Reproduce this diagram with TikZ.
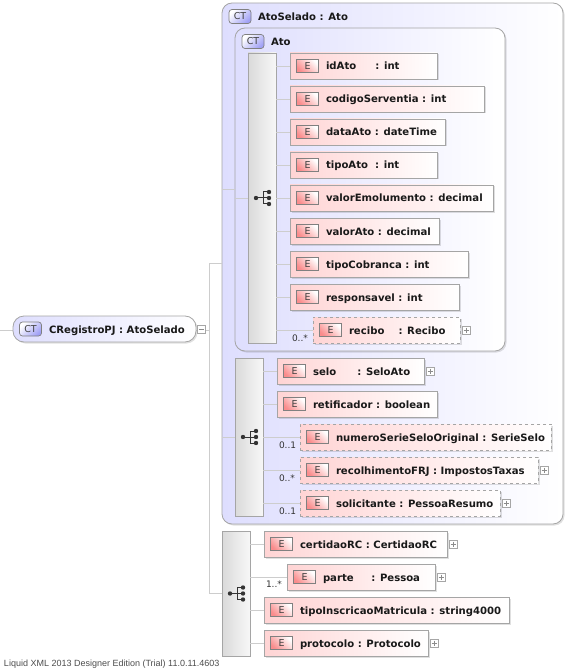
\documentclass[tikz,border=0pt]{standalone}
\usepackage{fontspec}
\setmainfont{DejaVu Sans}
\newfontfamily\footfont{Liberation Sans}
\usetikzlibrary{positioning,shadows}
\definecolor{XsdLav}{RGB}{222,222,254}
\definecolor{XsdBadge}{RGB}{160,160,245}
\definecolor{XsdPink}{RGB}{255,212,212}
\definecolor{XsdRed}{RGB}{250,140,140}
\definecolor{XsdEdge}{RGB}{165,165,165}
\definecolor{XsdLine}{RGB}{205,205,205}
\definecolor{XsdBar}{RGB}{218,218,218}
\definecolor{XsdInk}{RGB}{25,25,25}
\tikzset{
  every node/.style={outer sep=0pt,inner sep=0pt},
  softshadow/.style={drop shadow={shadow xshift=1.5pt,shadow yshift=-1.5pt,opacity=0.12,fill=black}},
  conn/.style={draw=XsdLine,line width=0.8pt},
  panel/.style={rectangle,draw=XsdEdge,line width=0.8pt,rounded corners=10pt,anchor=north west,
    left color=XsdLav,right color=white,softshadow},
  rootbox/.style={panel,rounded corners=11pt,minimum width=183pt,minimum height=26pt},
  seqbar/.style={rectangle,draw=XsdEdge,line width=0.8pt,anchor=north west,minimum width=28pt,
    left color=XsdBar,right color=white!97!black},
  elem/.style={rectangle,draw=XsdEdge,line width=0.8pt,anchor=north west,minimum height=26pt,
    left color=XsdPink,right color=white,softshadow},
  elemopt/.style={elem,dashed},
  ebadge/.style={rectangle,draw=black!50,line width=0.7pt,minimum width=22pt,minimum height=13pt,
    left color=XsdRed,right color=white,shading angle=135,text=black!75,font=\fontsize{9.5}{10}\selectfont},
  ctbadge/.style={rectangle,rounded corners=3pt,draw=black!50,line width=0.7pt,minimum width=22pt,
    minimum height=14pt,left color=white,right color=XsdBadge,shading angle=45,text=black!75,font=\fontsize{9.5}{10}\selectfont},
  elemtext/.style={anchor=base west,text=XsdInk,font=\fontsize{10.1}{11}\selectfont\bfseries},
  occurs/.style={anchor=base west,text=black!80,font=\fontsize{9}{10}\selectfont},
  expander/.style={rectangle,draw=black!35,line width=0.6pt,fill=white,minimum size=8pt,
    path picture={\draw[black!45,line width=0.5pt] ([xshift=1.5pt]path picture bounding box.west)
      -- ([xshift=-1.5pt]path picture bounding box.east);}},
  seqicon/.pic={
    \draw[black!80,line width=1pt] (-7,0) -- (0,0) (0,-6) -- (0,6) (0,-6) -- (6,-6) (0,0) -- (6,0) (0,6) -- (6,6);
    \foreach \d/\e in {-7/0,6/-6,6/0,6/6}
      \fill[black!80] (\d,\e) circle (2.2pt);
  },
}
\begin{document}
\begin{tikzpicture}[x=1pt,y=-1pt]
  \useasboundingbox (0,0) rectangle (577,668);

  % Nested content panels and the three sequence bars.
  \node[panel,minimum width=341pt,minimum height=521pt] (AtoSeladoBox) at (222,3) {};
  \node[panel,minimum width=270pt,minimum height=323pt] (AtoBox) at (235,28) {};
  \node[seqbar,minimum height=290pt] (seqAto) at (248,53) {};
  \node[seqbar,minimum height=158pt] (seqSelado) at (235,358) {};
  \node[seqbar,minimum height=125pt] (seqRoot) at (222,531) {};

  \pic at ([xshift=1pt]seqAto.center) {seqicon};
  \pic at ([xshift=1pt]seqSelado.center) {seqicon};
  \pic at ([xshift=1pt]seqRoot.center) {seqicon};

  % Root element.
  \coordinate (rootIn) at (0,330);
  \coordinate (bus) at (209,330);
  \draw[conn] (rootIn) -- (bus);
  \draw[conn] (AtoSeladoBox.west) -| (bus);
  \draw[conn] (seqRoot.west) -| (bus);
  \node[rootbox] (root) at (13,316) {};
  \node[ctbadge] (rootCT) at ([xshift=17.5pt]root.west) {CT};
  \node[elemtext] (rootText) at ([xshift=36pt,yshift=-4pt]root.west) {CRegistroPJ : AtoSelado};
  \node[expander,right=1.5pt of root] (rootMinus) {};

  \node[ctbadge] (AtoSeladoCT) at (240,16.5) {CT};
  \node[elemtext] (AtoSeladoText) at (258,20.5) {AtoSelado : Ato};
  \node[ctbadge] (AtoCT) at (253,41.5) {CT};
  \node[elemtext] (AtoText) at (271,45.5) {Ato};

  \draw[conn] (AtoBox.west) -- (AtoBox.west -| AtoSeladoBox.west);
  \draw[conn] (seqAto.west) -- (seqAto.west -| AtoBox.west);
  \draw[conn] (seqSelado.west) -- (seqSelado.west -| AtoSeladoBox.west);

  % Elements: name/x/y/width/text
  \foreach \name/\px/\py/\pw/\txt in {
    idAto/290/53/147/{idAto\ \ \ \ \hspace{5pt}: int},
    codigoServentia/290/86/194/{codigoServentia : int},
    dataAto/290/119/155/{dataAto : dateTime},
    tipoAto/290/152/147/{tipoAto\ \ : int},
    valorEmolumento/290/185/203/{valorEmolumento : decimal},
    valorAto/290/218/149/{valorAto : decimal},
    tipoCobranca/290/251/178/{tipoCobranca : int},
    responsavel/290/284/169/{responsavel : int},
    selo/277/358/147/{selo\ \ \ \ \ \ : SeloAto},
    retificador/277/391/160/{retificador : boolean},
    certidaoRC/264/531/183/{certidaoRC : CertidaoRC},
    parte/287/564/148/{parte\ \ \ \ \ : Pessoa},
    tipoInscricaoMatricula/264/597/245/{tipoInscricaoMatricula : string4000},
    protocolo/264/630/164/{protocolo : Protocolo}}
  {
    \node[elem,minimum width=\pw pt] (\name) at (\px,\py) {};
    \node[ebadge] (\name-E) at ([xshift=17.5pt]\name.west) {E};
    \node[elemtext] (\name-T) at ([xshift=36pt,yshift=-4pt]\name.west) {\txt};
  }
  \foreach \name/\px/\py/\pw/\txt in {
    recibo/313/317/147/{recibo\ \ \ \ : Recibo},
    numeroSerieSeloOriginal/300/424/251/{numeroSerieSeloOriginal : SerieSelo},
    recolhimentoFRJ/300/457/238/{recolhimentoFRJ : ImpostosTaxas},
    solicitante/300/490/200/{solicitante : PessoaResumo}}
  {
    \node[elemopt,minimum width=\pw pt] (\name) at (\px,\py) {};
    \node[ebadge] (\name-E) at ([xshift=17.5pt]\name.west) {E};
    \node[elemtext] (\name-T) at ([xshift=36pt,yshift=-4pt]\name.west) {\txt};
  }

  % Connectors out of the sequence bars.
  \foreach \name in {idAto,codigoServentia,dataAto,tipoAto,valorEmolumento,valorAto,tipoCobranca,responsavel,recibo}
    \draw[conn] (\name.west) -- (\name.west -| seqAto.east);
  \foreach \name in {selo,retificador,numeroSerieSeloOriginal,recolhimentoFRJ,solicitante}
    \draw[conn] (\name.west) -- (\name.west -| seqSelado.east);
  \foreach \name in {certidaoRC,parte,tipoInscricaoMatricula,protocolo}
    \draw[conn] (\name.west) -- (\name.west -| seqRoot.east);

  % Occurrence labels.
  \node[occurs] (reciboOcc) at (292,341) {0..*};
  \node[occurs] (numeroOcc) at (279,448) {0..1};
  \node[occurs] (recolhimentoOcc) at (279,481) {0..*};
  \node[occurs] (solicitanteOcc) at (279,514) {0..1};
  \node[occurs] (parteOcc) at (266,587) {1..*};

  % Expand boxes.
  \foreach \name in {recibo,selo,recolhimentoFRJ,solicitante,certidaoRC,parte,protocolo}
  {
    \node[expander,right=2pt of \name] (\name-plus) {};
    \draw[black!45,line width=0.5pt] ([yshift=2.5pt]\name-plus.center) -- ([yshift=-2.5pt]\name-plus.center);
  }

  \node[anchor=base west,text=black!70,font=\footfont\fontsize{9}{10}\selectfont] (footer) at (4,666)
    {Liquid XML 2013 Designer Edition (Trial) 11.0.11.4603};
\end{tikzpicture}
\end{document}
